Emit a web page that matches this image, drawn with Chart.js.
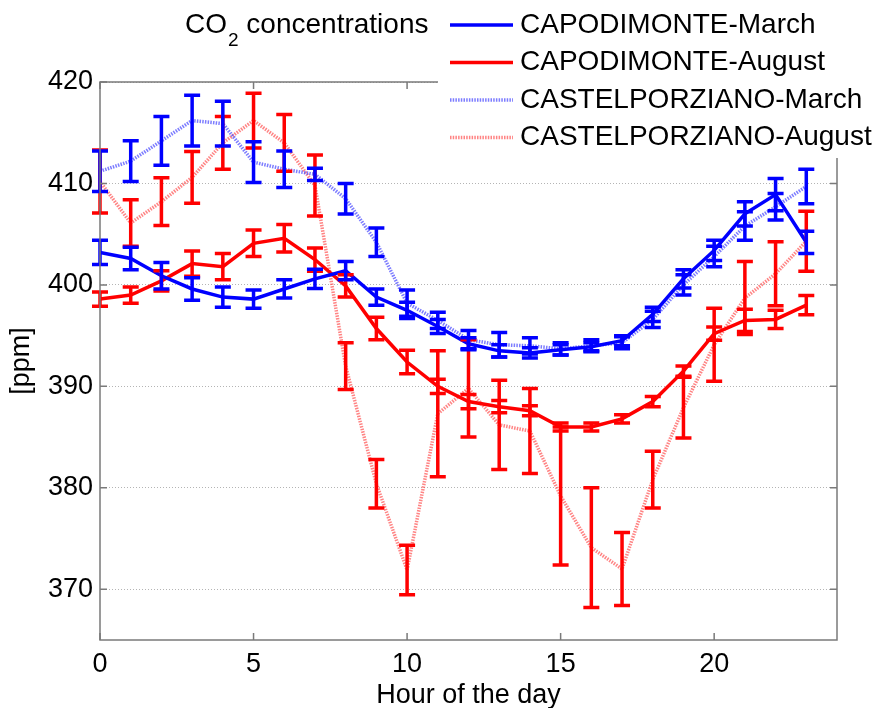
<!DOCTYPE html>
<html>
<head>
<meta charset="utf-8">
<title>CO2 concentrations</title>
<script src="https://cdn.jsdelivr.net/npm/chart.js@4.4.1/dist/chart.umd.min.js"></script>
<style>
  html, body { margin: 0; padding: 0; background: #fff; }
  #wrap { width: 880px; height: 708px; position: relative; }
</style>
</head>
<body>
<div id="wrap"><canvas id="co2"></canvas></div>
<script>
// hourly means [ppm] and their error half-widths
const HOURS = [0, 1, 2, 3, 4, 5, 6, 7, 8, 9, 10, 11, 12, 13, 14, 15, 16, 17, 18, 19, 20, 21, 22, 23];
const X_TICKS = [0, 5, 10, 15, 20];
const Y_TICKS = [370, 380, 390, 400, 410, 420];

const capMarch    = [403.2, 402.6, 400.9, 399.6, 398.8, 398.6, 399.6, 400.6, 401.4, 398.8, 397.5, 395.9,
                     394.2, 393.5, 393.3, 393.6, 393.9, 394.5, 397.1, 400.6, 403.4, 407.0, 408.9, 404.2];
const capMarchErr = [1.2, 1.1, 1.3, 1.1, 1.0, 0.9, 0.9, 0.95, 0.9, 0.8, 0.8, 0.7,
                     0.6, 0.6, 0.5, 0.5, 0.4, 0.5, 0.7, 0.9, 1.0, 1.2, 1.6, 1.1];

const capAug      = [398.6, 399.0, 400.4, 402.1, 401.8, 404.1, 404.6, 402.5, 399.9, 395.7, 392.4, 390.0,
                     388.5, 388.0, 387.6, 386.0, 386.0, 386.8, 388.5, 391.5, 395.2, 396.5, 396.6, 398.0];
const capAugErr   = [0.7, 0.8, 1.0, 1.25, 1.3, 1.3, 1.35, 1.15, 1.1, 1.1, 1.15, 0.7,
                     0.7, 0.6, 0.5, 0.4, 0.4, 0.4, 0.5, 0.5, 0.65, 1.1, 0.9, 0.95];

const castMarch    = [411.2, 412.2, 414.2, 416.2, 415.9, 412.1, 411.4, 410.9, 408.5, 404.2, 398.2, 396.5,
                      394.6, 394.1, 394.0, 393.7, 394.0, 394.3, 396.6, 400.0, 402.8, 405.8, 407.7, 409.7];
const castMarchErr = [2.0, 2.0, 2.4, 2.5, 2.2, 2.0, 1.8, 0.6, 1.5, 1.4, 1.3, 0.8,
                      0.9, 1.2, 0.8, 0.6, 0.6, 0.6, 0.8, 1.0, 1.0, 1.4, 1.3, 1.7];

const castAug      = [410.2, 406.1, 408.2, 410.6, 414.0, 416.2, 414.0, 409.8, 392.0, 380.4, 371.9, 387.3,
                      389.8, 386.2, 385.6, 379.2, 374.1, 372.0, 380.8, 387.9, 394.1, 398.7, 401.1, 404.3];
const castAugErr   = [3.1, 2.3, 2.35, 2.55, 2.6, 2.7, 2.8, 3.0, 2.3, 2.4, 2.45, 6.2,
                      4.8, 4.4, 4.2, 6.8, 5.9, 3.6, 2.8, 3.0, 3.6, 3.6, 3.15, 2.95];

const FONT = '"Liberation Sans", Arial, sans-serif';
const BLUE = '#0000ff';
const RED  = '#ff0000';

const toPoints = vals => HOURS.map((h, i) => ({ x: h, y: vals[i] }));

function series(label, vals, errs, color, lineColor, dotted) {
  return {
    label,
    data: toPoints(vals),
    errors: errs,
    barColor: color,
    borderColor: lineColor,
    borderWidth: dotted ? 3.5 : 3.5,
    borderDash: dotted ? [1.5, 1.2] : [],
    pointRadius: 0,
    tension: 0,
    fill: false,
  };
}

// vertical error bars with caps, drawn from the same values as the lines
const errorBars = {
  id: 'errorBars',
  afterDatasetsDraw(chart) {
    const { ctx, scales: { x, y } } = chart;
    for (let i = chart.data.datasets.length - 1; i >= 0; i--) {
      const ds = chart.data.datasets[i];
      ctx.save();
      ctx.strokeStyle = ds.barColor;
      ctx.lineWidth = 3.5;
      ds.data.forEach((p, j) => {
        const e = ds.errors[j];
        const px = x.getPixelForValue(p.x);
        const top = y.getPixelForValue(p.y + e);
        const bot = y.getPixelForValue(p.y - e);
        ctx.beginPath();
        ctx.moveTo(px, top); ctx.lineTo(px, bot);
        ctx.moveTo(px - 8, top); ctx.lineTo(px + 8, top);
        ctx.moveTo(px - 8, bot); ctx.lineTo(px + 8, bot);
        ctx.stroke();
      });
      ctx.restore();
    }
  }
};

// box around the plot with inward tick marks on every side
const frame = {
  id: 'frame',
  afterDraw(chart) {
    const { ctx, chartArea: a, scales: { x, y } } = chart;
    ctx.save();
    ctx.strokeStyle = '#7a7a7a';
    ctx.lineWidth = 1.5;
    ctx.strokeRect(a.left, a.top, a.right - a.left, a.bottom - a.top);
    ctx.beginPath();
    X_TICKS.forEach(v => {
      const px = x.getPixelForValue(v);
      ctx.moveTo(px, a.bottom); ctx.lineTo(px, a.bottom - 7);
      ctx.moveTo(px, a.top); ctx.lineTo(px, a.top + 7);
    });
    Y_TICKS.forEach(v => {
      const py = y.getPixelForValue(v);
      ctx.moveTo(a.left, py); ctx.lineTo(a.left + 7, py);
      ctx.moveTo(a.right, py); ctx.lineTo(a.right - 7, py);
    });
    ctx.stroke();
    ctx.restore();
  }
};

// legend block top right, with the CO2 title to its left
const legendBox = {
  id: 'legendBox',
  afterDraw(chart) {
    const ctx = chart.ctx;
    ctx.save();
    ctx.fillStyle = '#fff';
    ctx.fillRect(438, 0, 442, 158);

    ctx.textBaseline = 'middle';
    ctx.textAlign = 'left';
    ctx.font = '28px ' + FONT;
    chart.data.datasets.forEach((ds, i) => {
      const yy = 25 + i * 37.5;
      ctx.strokeStyle = ds.borderColor;
      ctx.lineWidth = ds.borderWidth;
      ctx.setLineDash(ds.borderDash || []);
      ctx.beginPath();
      ctx.moveTo(450, yy); ctx.lineTo(513, yy);
      ctx.stroke();
      ctx.setLineDash([]);
      ctx.fillStyle = '#000';
      ctx.fillText(ds.label, 520, yy);
    });

    // CO with subscript 2
    ctx.fillStyle = '#000';
    let tx = 185;
    ctx.fillText('CO', tx, 25);
    tx += ctx.measureText('CO').width;
    ctx.font = '19px ' + FONT;
    ctx.fillText('2', tx + 1, 41);
    tx += ctx.measureText('2').width + 1;
    ctx.font = '28px ' + FONT;
    ctx.fillText(' concentrations', tx, 25);
    ctx.restore();
  }
};

new Chart(document.getElementById('co2'), {
  type: 'line',
  data: {
    datasets: [
      series('CAPODIMONTE-March', capMarch, capMarchErr, BLUE, BLUE, false),
      series('CAPODIMONTE-August', capAug, capAugErr, RED, RED, false),
      series('CASTELPORZIANO-March', castMarch, castMarchErr, BLUE, 'rgba(70,70,255,0.7)', true),
      series('CASTELPORZIANO-August', castAug, castAugErr, RED, 'rgba(255,80,80,0.7)', true),
    ],
  },
  options: {
    responsive: true,
    maintainAspectRatio: false,
    animation: false,
    layout: { padding: { top: 82, right: 43, left: 0, bottom: 0 } },
    plugins: {
      legend: { display: false },
      tooltip: { enabled: false },
    },
    scales: {
      x: {
        type: 'linear',
        min: 0,
        max: 24,
        afterBuildTicks: s => { s.ticks = X_TICKS.map(v => ({ value: v })); },
        afterFit: s => { s.height = 68; },
        grid: { display: false, drawTicks: false },
        border: { display: false },
        ticks: { color: '#000', padding: 8, font: { family: FONT, size: 27 }, maxRotation: 0 },
        title: {
          display: true, text: 'Hour of the day', color: '#000',
          font: { family: FONT, size: 27, lineHeight: 0.9 }, padding: { top: 0, bottom: 0 },
        },
      },
      y: {
        min: 365,
        max: 420,
        afterBuildTicks: s => { s.ticks = Y_TICKS.map(v => ({ value: v })); },
        afterFit: s => { s.width = 100; },
        grid: { color: '#b4b4b4', lineWidth: 1, drawTicks: false },
        border: { display: false, dash: [1, 2] },
        ticks: { color: '#000', padding: 7, font: { family: FONT, size: 27 } },
        title: {
          display: true, text: '[ppm]', color: '#000',
          font: { family: FONT, size: 27, lineHeight: 1 }, padding: { top: 8, bottom: 0 },
        },
      },
    },
  },
  plugins: [errorBars, frame, legendBox],
});
</script>
</body>
</html>
